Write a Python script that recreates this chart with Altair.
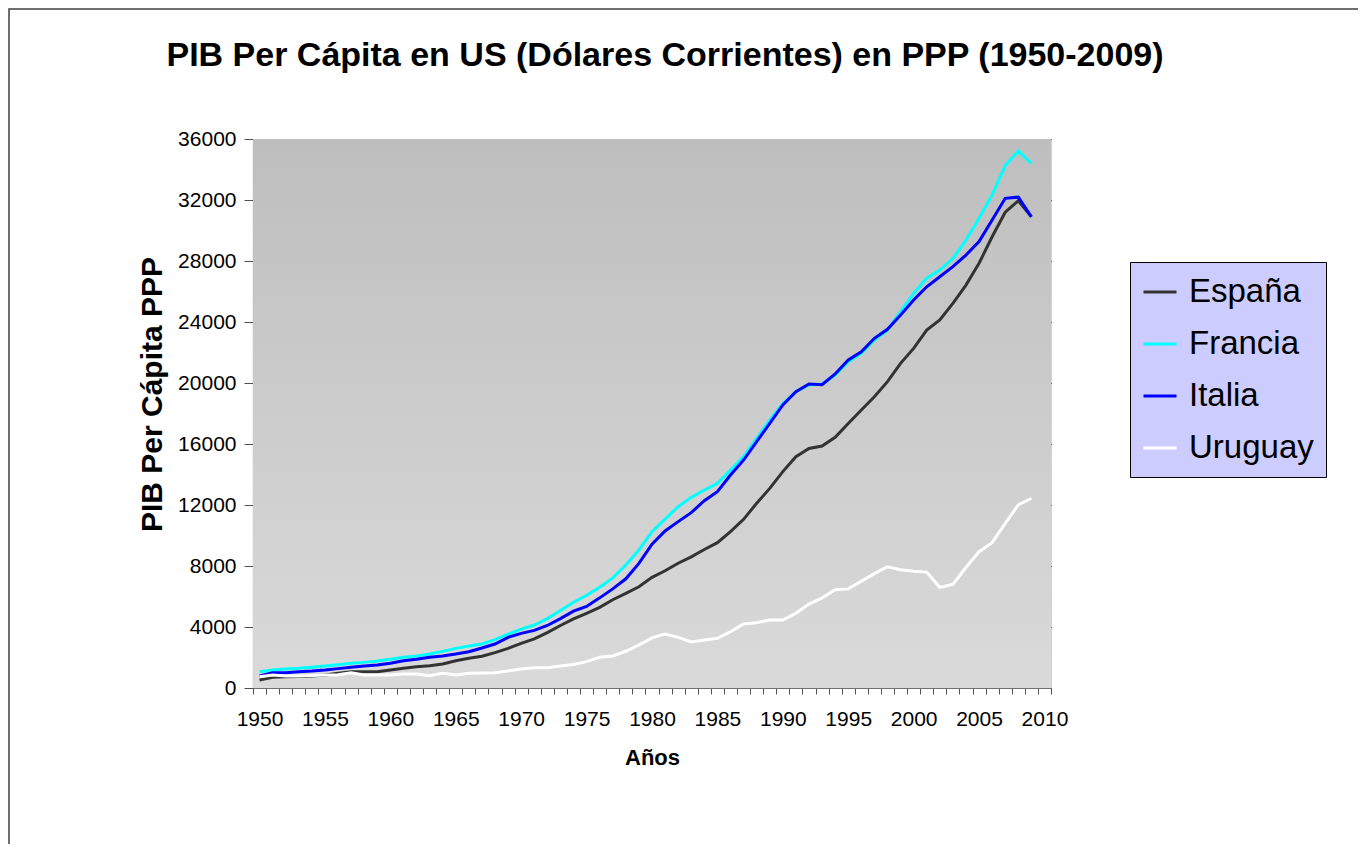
import altair as alt
import pandas as pd

# ---------------- data ----------------
years = list(range(1950, 2010))

espana = [525, 700, 740, 750, 790, 850, 960, 1070, 1070, 1070,
          1180, 1290, 1400, 1460, 1570, 1790, 1950, 2080, 2320, 2600,
          2930, 3220, 3630, 4100, 4530, 4900, 5290, 5790, 6210, 6640,
          7260, 7690, 8180, 8600, 9080, 9530, 10250, 11060, 12110, 13090,
          14190, 15170, 15710, 15870, 16440, 17350, 18230, 19100, 20090, 21290,
          22270, 23470, 24130, 25220, 26420, 27850, 29590, 31200, 31950, 30900]

francia = [1070, 1180, 1250, 1290, 1360, 1440, 1530, 1620, 1680, 1770,
           1880, 2010, 2100, 2230, 2400, 2600, 2750, 2885, 3170, 3530,
           3860, 4130, 4550, 5080, 5620, 6080, 6610, 7220, 8060, 9050,
           10250, 11070, 11890, 12500, 12980, 13420, 14290, 15170, 16370, 17570,
           18660, 19430, 19870, 19930, 20520, 21400, 21950, 22820, 23470, 24680,
           25880, 26870, 27410, 28170, 29370, 30800, 32330, 34250, 35220, 34400]

italia = [790, 1006, 1006, 1070, 1115, 1180, 1270, 1355, 1440, 1510,
          1620, 1790, 1880, 2010, 2100, 2230, 2380, 2620, 2885, 3320,
          3585, 3780, 4100, 4550, 5040, 5350, 5910, 6500, 7160, 8170,
          9430, 10300, 10910, 11500, 12280, 12870, 13970, 14950, 16150, 17350,
          18560, 19430, 19930, 19890, 20590, 21510, 22050, 22930, 23520, 24460,
          25440, 26310, 26970, 27630, 28390, 29270, 30690, 32110, 32190, 30900]

uruguay = [740, 850, 790, 790, 820, 850, 870, 1000, 850, 850,
           850, 920, 920, 810, 960, 850, 960, 990, 1000, 1120,
           1240, 1320, 1330, 1440, 1540, 1730, 2010, 2100, 2410, 2820,
           3290, 3540, 3320, 3020, 3150, 3260, 3690, 4200, 4280, 4460,
           4460, 4900, 5500, 5900, 6450, 6500, 7000, 7500, 7950, 7750,
           7650, 7600, 6600, 6800, 7900, 8940, 9530, 10800, 12000, 12440]

series_names = ["España", "Francia", "Italia", "Uruguay"]
series_colors = ["#333333", "#00ffff", "#0000ff", "#ffffff"]
y_ticks = list(range(0, 36001, 4000))

title_text = "PIB Per Cápita en US (Dólares Corrientes) en PPP (1950-2009)"
x_title = "Años"
y_title = "PIB Per Cápita PPP"

rows = []
for name, vals in zip(series_names, [espana, francia, italia, uruguay]):
    for yr, v in zip(years, vals):
        rows.append({"Año": yr, "PIB": v, "País": name})
df = pd.DataFrame(rows)

# ---------------- layout ----------------
W, H = 798, 549
FONT = "Liberation Sans"
n_cat = len(years) + 1
step = W / n_cat
boundaries = [y - 0.5 for y in years] + [years[-1] + 0.5, years[-1] + 1.5]
x_domain = [years[0] - 0.5, years[-1] + 1.5]

one = pd.DataFrame({"k": [0]})

frame = alt.Chart(one).mark_rect(
    fillOpacity=0, stroke="#404040", strokeWidth=1.5
).encode(
    x=alt.value(-244), x2=alt.value(W + 400),
    y=alt.value(-130), y2=alt.value(H + 400),
)

background = alt.Chart(one).mark_rect(
    fill=alt.Gradient(
        gradient="linear",
        stops=[alt.GradientStop(color="#bebebe", offset=0),
               alt.GradientStop(color="#dadada", offset=1)],
        x1=0, x2=0, y1=0, y2=1,
    )
).encode(x=alt.value(0), x2=alt.value(W), y=alt.value(0), y2=alt.value(H))

lines = alt.Chart(df).mark_line(strokeWidth=3).encode(
    x=alt.X(
        "Año:Q",
        scale=alt.Scale(domain=x_domain, nice=False, zero=False),
        axis=alt.Axis(
            values=boundaries,
            labelExpr="(datum.value + 0.5) % 5 == 0 ? format(datum.value + 0.5, 'd') : ''",
            labelOffset=step / 2,
            labelFlush=False,
            labelOverlap=False,
            labelBound=False,
            labelFont=FONT,
            labelFontSize=21,
            labelColor="#000000",
            tickSize=6,
            tickColor="#505050",
            labelPadding=14,
            grid=False,
            domainColor="#707070",
            domainWidth=1.2,
            title=x_title,
            titleFont=FONT,
            titleFontSize=22,
            titleFontWeight="bold",
            titleColor="#000000",
            titlePadding=18,
        ),
    ),
    y=alt.Y(
        "PIB:Q",
        scale=alt.Scale(domain=[0, 36000], nice=False),
        axis=alt.Axis(
            values=y_ticks,
            format="d",
            labelFont=FONT,
            labelFontSize=21,
            labelColor="#000000",
            tickSize=9,
            tickColor="#505050",
            labelPadding=8,
            domainColor="#707070",
            domainWidth=1.2,
            grid=True,
            gridColor="#111111",
            gridWidth=1,
            title=y_title,
            titleFont=FONT,
            titleFontSize=30,
            titleFontWeight="bold",
            titleColor="#000000",
            titleAngle=-90,
            titleBaseline="middle",
            titleX=-101,
            titleY=255,
        ),
    ),
    color=alt.Color(
        "País:N",
        sort=series_names,
        scale=alt.Scale(domain=series_names, range=series_colors),
        legend=alt.Legend(
            title=None,
            orient="none",
            legendX=877,
            legendY=123,
            padding=12,
            fillColor="#ccccff",
            strokeColor="#000000",
            symbolType="stroke",
            symbolSize=1089,
            symbolStrokeWidth=3,
            labelFontSize=33,
            labelFont=FONT,
            labelColor="#000000",
            labelOffset=11,
            rowPadding=17,
        ),
    ),
)

chart = alt.layer(frame, background, lines).properties(
    width=W,
    height=H,
    title=alt.TitleParams(
        text=title_text,
        font=FONT,
        fontSize=34,
        fontWeight="bold",
        color="#000000",
        anchor="middle",
        dx=13,
        offset=-65,
    ),
    autosize=alt.AutoSizeParams(type="none"),
    padding={"left": 245, "top": 131, "right": 307, "bottom": 156},
).configure(
    background="#ffffff"
).configure_view(
    stroke="#ccccff", strokeWidth=1
)

chart.save("out.html", embed_options={"renderer": "svg", "actions": False})
